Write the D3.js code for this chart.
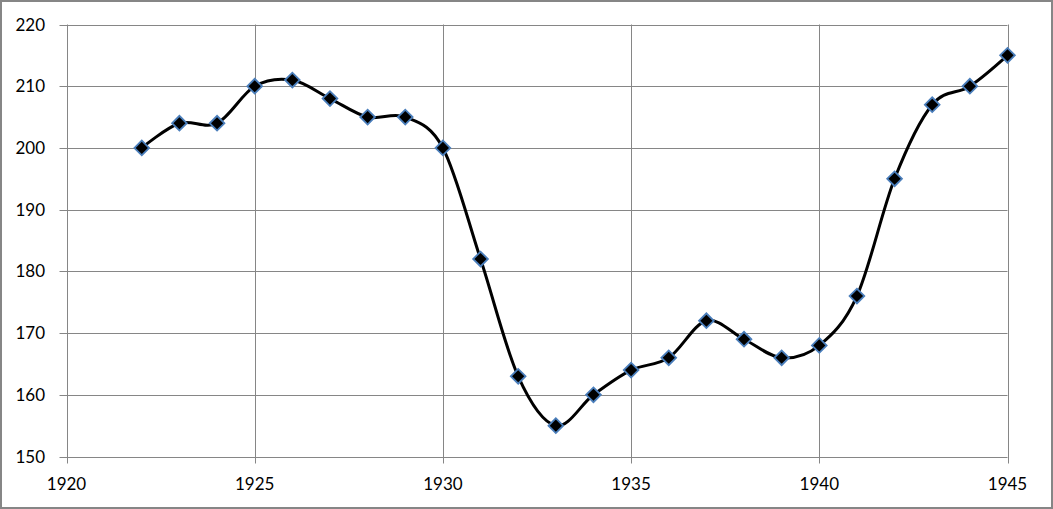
<!DOCTYPE html>
<html><head><meta charset="utf-8">
<script src="https://cdn.jsdelivr.net/npm/d3@7"></script>
<style>body{margin:0;background:#fff}svg{display:block}</style>
</head><body><svg id="c" width="1053" height="509"></svg>
<script>
const years = [1922,1923,1924,1925,1926,1927,1928,1929,1930,1931,1932,1933,1934,1935,1936,1937,1938,1939,1940,1941,1942,1943,1944,1945];
const values = [200,204,204,210,211,208,205,205,200,182,163,155,160,164,166,172,169,166,168,176,195,207,210,215];
const xTicks = [1920,1925,1930,1935,1940,1945];
const yTicks = [150,160,170,180,190,200,210,220];

const svg = d3.select("#c");
const W = 1053, H = 509;
const L = 66.5, R = 1007.5, T = 24.5, B = 456.5;
const font = "Lato, 'Open Sans', sans-serif";

svg.append("rect").attr("x",1).attr("y",1).attr("width",W-2).attr("height",H-2)
  .attr("fill","#fff").attr("stroke","#868686").attr("stroke-width",2);

const x = d3.scaleLinear().domain([1920,1945]).range([L,R]);
const y = d3.scaleLinear().domain([150,220]).range([B,T]);

const g = svg.append("g");
yTicks.forEach(v=>{
  g.append("line").attr("x1",L-7).attr("x2",R).attr("y1",Math.round(y(v))+0.5).attr("y2",Math.round(y(v))+0.5)
   .attr("stroke","#868686").attr("stroke-width",1);
  g.append("text").attr("x",45).attr("y",Math.round(y(v))+6).attr("text-anchor","end")
   .attr("font-family",font).attr("font-size",17).attr("fill","#000").text(v);
});
xTicks.forEach(v=>{
  g.append("line").attr("x1",Math.round(x(v))+0.5).attr("x2",Math.round(x(v))+0.5).attr("y1",T).attr("y2",B+7)
   .attr("stroke","#868686").attr("stroke-width",1);
  g.append("text").attr("x",x(v)).attr("y",490).attr("text-anchor","middle")
   .attr("font-family",font).attr("font-size",17).attr("fill","#000").text(v);
});

const data = years.map((yr,i)=>({yr,v:values[i]}));
const line = d3.line().x(d=>x(d.yr)).y(d=>y(d.v)).curve(d3.curveCardinal.tension(0));
svg.append("path").datum(data).attr("d",line).attr("fill","none").attr("stroke","#000").attr("stroke-width",3);

svg.selectAll(".m").data(data).enter().append("rect")
  .attr("x",-5.2).attr("y",-5.2).attr("width",10.4).attr("height",10.4)
  .attr("transform",d=>`translate(${x(d.yr)},${y(d.v)}) rotate(45)`)
  .attr("fill","#000").attr("stroke","#4a7ebb").attr("stroke-width",1.8);
</script></body></html>
